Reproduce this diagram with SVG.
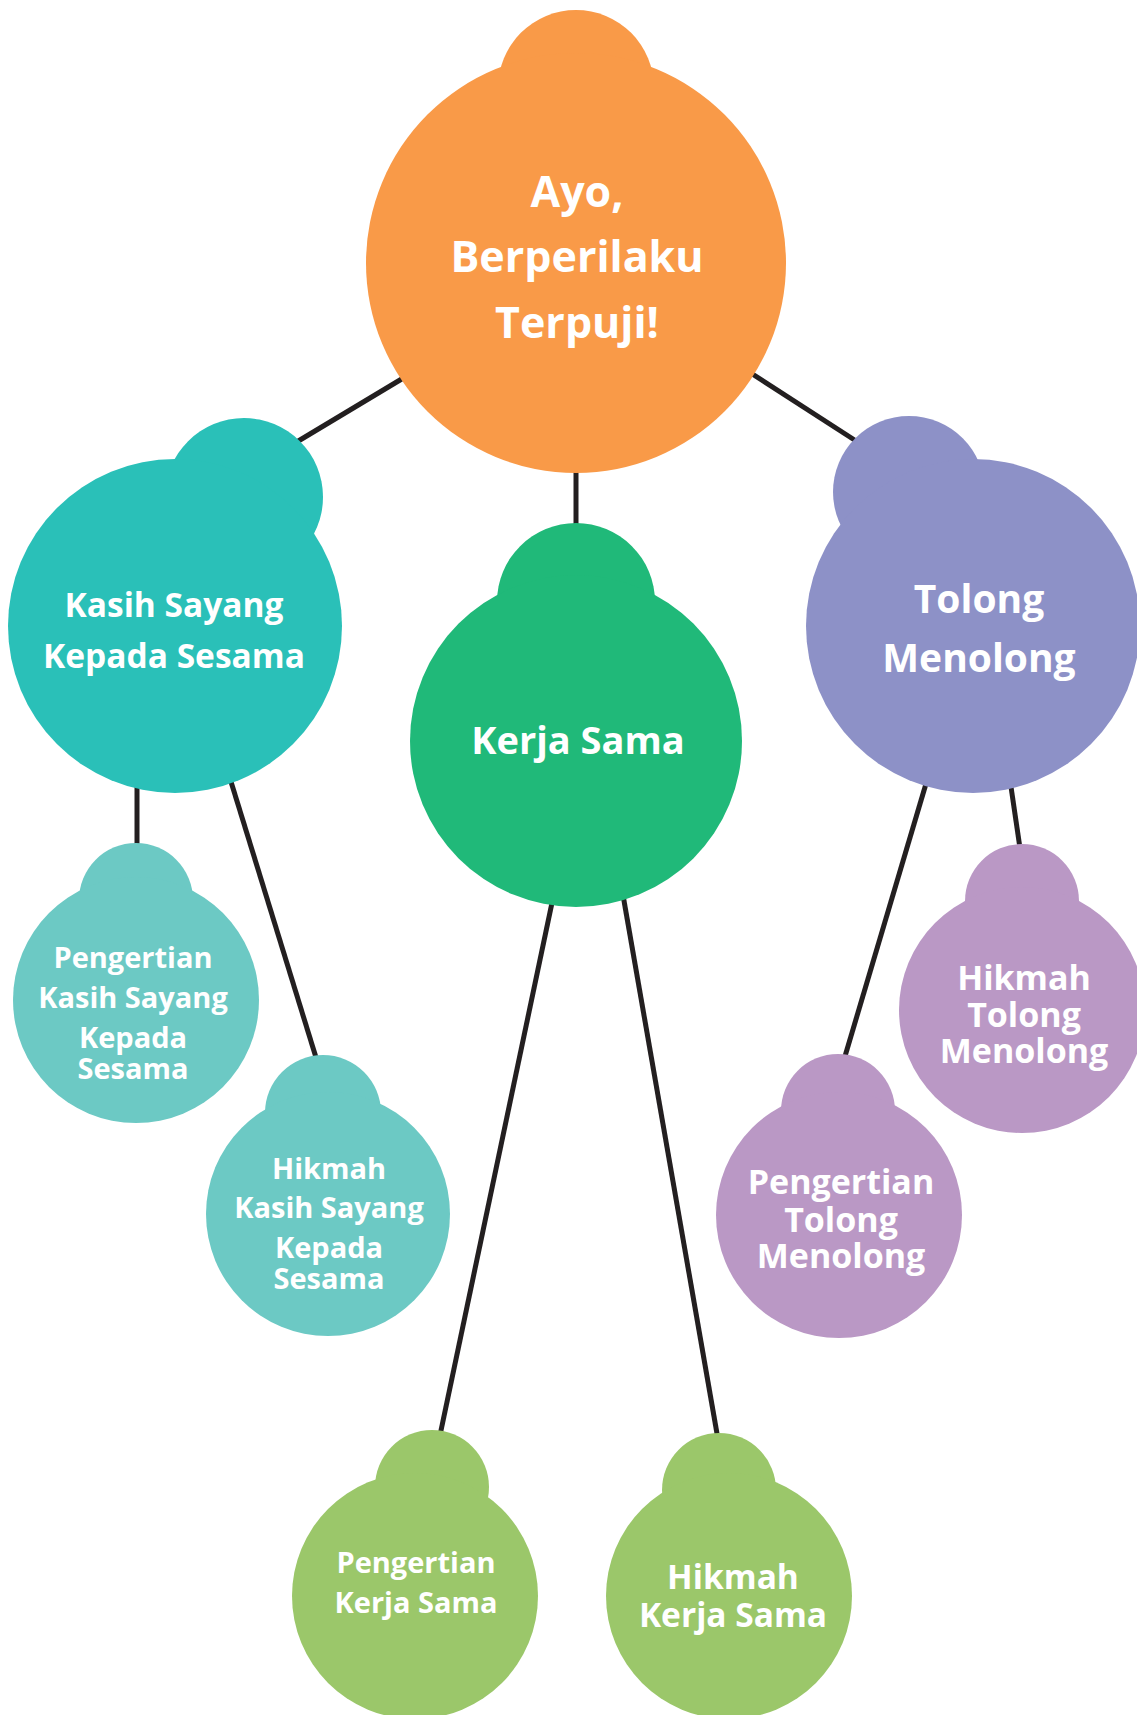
<svg xmlns="http://www.w3.org/2000/svg" width="1137" height="1715" viewBox="0 0 1137 1715">
  <style>
    .edge { stroke: #231f20; stroke-width: 5; stroke-linecap: butt; fill: none; }
    .lbl { font-family: "Open Sans", Lato, "Liberation Sans", sans-serif; font-weight: 700; fill: #ffffff; text-anchor: middle; font-variant-ligatures: none; }
    .orange { fill: #f99a48; }
    .teal { fill: #2ac0b8; }
    .green { fill: #20b979; }
    .violet { fill: #8d91c7; }
    .teal-lt { fill: #6cc9c4; }
    .lilac { fill: #ba98c5; }
    .lime { fill: #9bc76a; }
  </style>
  <rect width="1137" height="1715" fill="#ffffff"/>

  <!-- connectors (drawn under the nodes) -->
  <g id="connectors">
    <line class="edge" x1="420" y1="368" x2="280" y2="452"/>
    <line class="edge" x1="740" y1="366" x2="870" y2="450"/>
    <line class="edge" x1="576" y1="470" x2="576" y2="532"/>
    <line class="edge" x1="137" y1="780" x2="137" y2="852"/>
    <line class="edge" x1="228" y1="772" x2="318" y2="1064"/>
    <line class="edge" x1="928" y1="777" x2="843" y2="1063"/>
    <line class="edge" x1="1010" y1="780" x2="1021" y2="855"/>
    <line class="edge" x1="553" y1="898" x2="439" y2="1440"/>
    <line class="edge" x1="623" y1="895" x2="719" y2="1445"/>
  </g>

  <!-- root -->
  <g id="node-root">
    <circle class="orange" cx="576" cy="88" r="78"/>
    <circle class="orange" cx="576" cy="263" r="210"/>
    <text class="lbl" font-size="43" x="577" y="207">Ayo,</text>
    <text class="lbl" font-size="43" x="577" y="272">Berperilaku</text>
    <text class="lbl" font-size="43" x="577" y="338">Terpuji!</text>
  </g>

  <!-- first level -->
  <g id="node-kasih">
    <circle class="teal" cx="244" cy="497" r="79"/>
    <circle class="teal" cx="175" cy="626" r="167"/>
    <text class="lbl" font-size="33.5" x="174" y="617">Kasih Sayang</text>
    <text class="lbl" font-size="33.5" x="174" y="668">Kepada Sesama</text>
  </g>

  <g id="node-kerja">
    <circle class="green" cx="576" cy="602" r="79"/>
    <circle class="green" cx="576" cy="741" r="166"/>
    <text class="lbl" font-size="38" x="578" y="754">Kerja Sama</text>
  </g>

  <g id="node-tolong">
    <circle class="violet" cx="909" cy="492" r="76"/>
    <circle class="violet" cx="973" cy="626" r="167"/>
    <text class="lbl" font-size="39" x="979" y="613">Tolong</text>
    <text class="lbl" font-size="39" x="979" y="672">Menolong</text>
  </g>

  <!-- second level -->
  <g id="node-pengertian-kasih">
    <circle class="teal-lt" cx="136" cy="900" r="57"/>
    <circle class="teal-lt" cx="136" cy="1000" r="123"/>
    <text class="lbl" font-size="29" x="133" y="968">Pengertian</text>
    <text class="lbl" font-size="29" x="133" y="1008">Kasih Sayang</text>
    <text class="lbl" font-size="29" x="133" y="1048">Kepada</text>
    <text class="lbl" font-size="29" x="133" y="1079">Sesama</text>
  </g>

  <g id="node-hikmah-kasih">
    <circle class="teal-lt" cx="323" cy="1113" r="58"/>
    <circle class="teal-lt" cx="328" cy="1214" r="122"/>
    <text class="lbl" font-size="29" x="329" y="1179">Hikmah</text>
    <text class="lbl" font-size="29" x="329" y="1218">Kasih Sayang</text>
    <text class="lbl" font-size="29" x="329" y="1258">Kepada</text>
    <text class="lbl" font-size="29" x="329" y="1289">Sesama</text>
  </g>

  <g id="node-hikmah-tolong">
    <circle class="lilac" cx="1022" cy="901" r="57"/>
    <circle class="lilac" cx="1022" cy="1010" r="123"/>
    <text class="lbl" font-size="34" x="1024" y="990">Hikmah</text>
    <text class="lbl" font-size="34" x="1024" y="1027">Tolong</text>
    <text class="lbl" font-size="34" x="1024" y="1063">Menolong</text>
  </g>

  <g id="node-pengertian-tolong">
    <circle class="lilac" cx="838" cy="1111" r="57"/>
    <circle class="lilac" cx="839" cy="1215" r="123"/>
    <text class="lbl" font-size="34" x="841" y="1194">Pengertian</text>
    <text class="lbl" font-size="34" x="841" y="1232">Tolong</text>
    <text class="lbl" font-size="34" x="841" y="1268">Menolong</text>
  </g>

  <g id="node-pengertian-kerja">
    <circle class="lime" cx="432" cy="1487" r="57"/>
    <circle class="lime" cx="415" cy="1596" r="123"/>
    <text class="lbl" font-size="29" x="416" y="1573">Pengertian</text>
    <text class="lbl" font-size="29" x="416" y="1613">Kerja Sama</text>
  </g>

  <g id="node-hikmah-kerja">
    <circle class="lime" cx="719" cy="1490" r="57"/>
    <circle class="lime" cx="729" cy="1596" r="123"/>
    <text class="lbl" font-size="33.5" x="733" y="1589">Hikmah</text>
    <text class="lbl" font-size="33.5" x="733" y="1627">Kerja Sama</text>
  </g>
</svg>
